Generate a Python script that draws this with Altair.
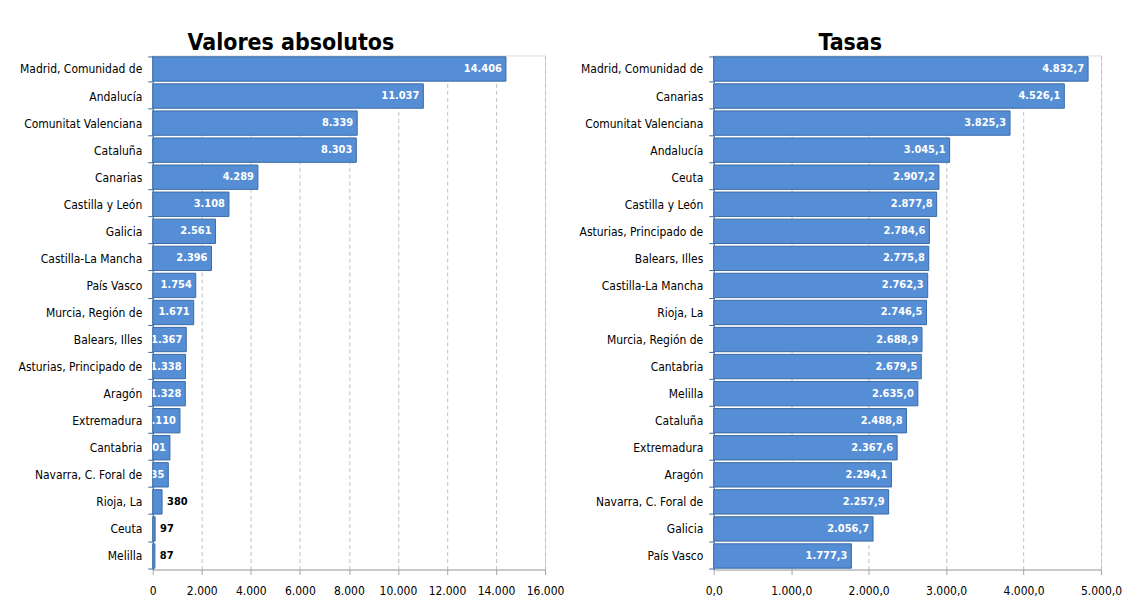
import altair as alt
import pandas as pd

abs_regions = ["Madrid, Comunidad de", "Andalucía", "Comunitat Valenciana", "Cataluña",
               "Canarias", "Castilla y León", "Galicia", "Castilla-La Mancha", "País Vasco",
               "Murcia, Región de", "Balears, Illes", "Asturias, Principado de", "Aragón",
               "Extremadura", "Cantabria", "Navarra, C. Foral de", "Rioja, La", "Ceuta", "Melilla"]
abs_values = [14406, 11037, 8339, 8303, 4289, 3108, 2561, 2396, 1754, 1671, 1367, 1338, 1328,
              1110, 701, 635, 380, 97, 87]

rate_regions = ["Madrid, Comunidad de", "Canarias", "Comunitat Valenciana", "Andalucía", "Ceuta",
                "Castilla y León", "Asturias, Principado de", "Balears, Illes", "Castilla-La Mancha",
                "Rioja, La", "Murcia, Región de", "Cantabria", "Melilla", "Cataluña", "Extremadura",
                "Aragón", "Navarra, C. Foral de", "Galicia", "País Vasco"]
rate_values = [4832.7, 4526.1, 3825.3, 3045.1, 2907.2, 2877.8, 2784.6, 2775.8, 2762.3, 2746.5,
               2688.9, 2679.5, 2635.0, 2488.8, 2367.6, 2294.1, 2257.9, 2056.7, 1777.3]

abs_ticks = [0, 2000, 4000, 6000, 8000, 10000, 12000, 14000, 16000]
rate_ticks = [0, 1000, 2000, 3000, 4000, 5000]

FONT = "Liberation Sans Narrow, DejaVu Sans Condensed, sans-serif"
BAR = "#558ed5"
EDGE = "#3a6aa6"


def panel(regions, values, title, fmt, ticks, width):
    xmax = ticks[-1]
    df = pd.DataFrame({"region": regions, "value": values})
    df["inside"] = df["value"] >= xmax * 0.03
    base = alt.Chart(df)
    y = alt.Y("region:N", sort=regions, title=None,
              scale=alt.Scale(paddingInner=0.1, paddingOuter=0.05),
              axis=alt.Axis(tickBand="extent", tickSize=5, tickColor=EDGE, domainColor=EDGE,
                            labelFont=FONT, labelFontSize=12, labelColor="black", labelPadding=6,
                            labelLimit=300))
    x = alt.X("value:Q", title=None,
              scale=alt.Scale(domain=[0, xmax], nice=False, zero=True),
              axis=alt.Axis(values=ticks, format=fmt, grid=True, gridDash=[4, 3],
                            gridColor="#c0c0c0", domainColor="#a6a6a6", tickColor="#a6a6a6",
                            tickSize=5, labelFont=FONT, labelFontSize=12, labelColor="black",
                            labelPadding=11, labelFlush=False))
    bars = base.mark_bar(color=BAR, stroke=EDGE, strokeWidth=1).encode(x=x, y=y)
    inside = base.transform_filter("datum.inside").mark_text(
        align="right", baseline="middle", dx=-4, color="white", fontWeight="bold",
        font=FONT, fontSize=11, clip=True).encode(x="value:Q", y=y, text=alt.Text("value:Q", format=fmt))
    outside = base.transform_filter("!datum.inside").mark_text(
        align="left", baseline="middle", dx=5, color="black", fontWeight="bold",
        font=FONT, fontSize=11).encode(x="value:Q", y=y, text=alt.Text("value:Q", format=fmt))
    return alt.layer(bars, inside, outside).properties(
        width=width, height=515,
        title=alt.TitleParams(title, frame="bounds", anchor="middle", fontSize=23, font=FONT,
                              fontWeight="bold", color="black", offset=-6))


left = panel(abs_regions, abs_values, "Valores absolutos", ",.0f", abs_ticks, 393)
right = panel(rate_regions, rate_values, "Tasas", ",.1f", rate_ticks, 388)

chart = alt.hconcat(left, right, spacing=13).properties(
    padding={"left": 9, "top": 23, "right": 0, "bottom": 0}
).configure_view(stroke=None).configure(
    locale={"number": {"decimal": ",", "thousands": ".", "grouping": [3], "currency": ["", " €"]}}
)

chart.save("out.html", embed_options={"renderer": "svg", "actions": False})
